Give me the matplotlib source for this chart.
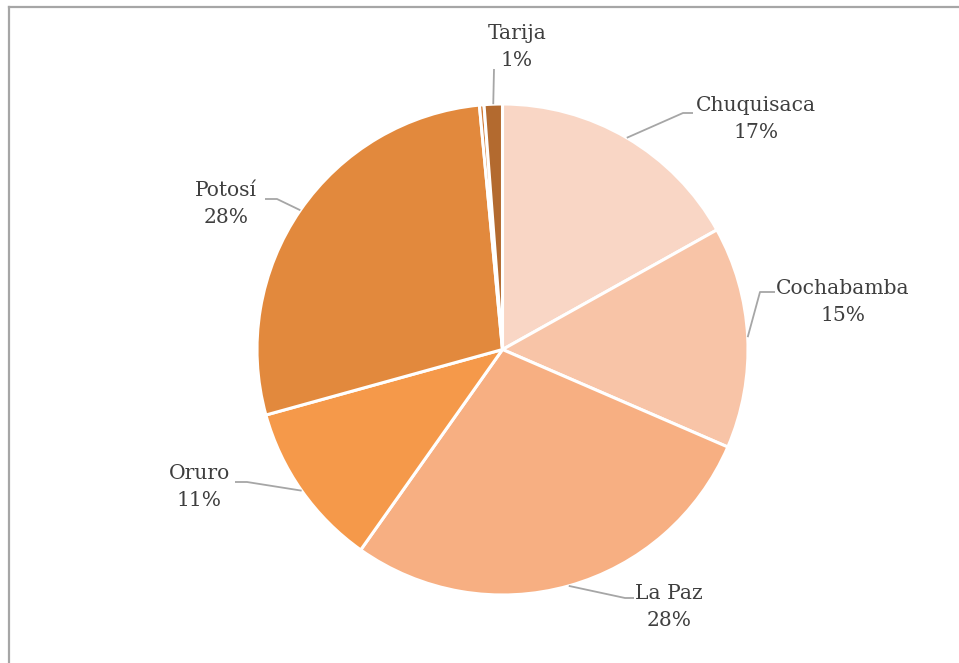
import numpy as np
import matplotlib.pyplot as plt
from matplotlib.lines import Line2D

W, H = 959, 663

# share per department, clockwise from the top
departments = ['Chuquisaca', 'Cochabamba', 'La Paz', 'Oruro', 'Potosí', '', 'Tarija']
shares = [16.9, 14.6, 28.3, 10.9, 27.8, 0.3, 1.2]
colors = ['#F9D6C5', '#F8C4A7', '#F7AF82', '#F5994A', '#E2893D', '#D37D38', '#B36A2F']

# label anchor (text centre) and elbow of the leader line, in pixels
label_xy = [(756, 119), (843, 302), (669, 607), (199, 487), (226, 204), None, (517, 47)]
elbow_xy = [(683, 113), (760, 292), (625, 598), (247, 482), (277, 199), None, (494, 69)]
end_xy = [(693, 113), (775, 292), (634, 598), (235, 482), (265, 199), None, (494, 69)]

cx, cy, r = 502.5, 349.5, 245.5


def px(x, y):
    return x, H - y


fig = plt.figure(figsize=(W / 100, H / 100), dpi=100)
ax = fig.add_axes([0, 0, 1, 1])

wedges, _ = ax.pie(shares, colors=colors, startangle=90, counterclock=False,
                   center=px(cx, cy), radius=r,
                   wedgeprops=dict(edgecolor='white', linewidth=2.2))
ax.set_xlim(0, W)
ax.set_ylim(0, H)
ax.set_aspect('equal')
ax.axis('off')

total = sum(shares)
start = 0.0
for name, v, lab, elb, end in zip(departments, shares, label_xy, elbow_xy, end_xy):
    mid = (start + v / 2) / total * 2 * np.pi
    start += v
    if lab is None:
        continue
    rim = (cx + r * np.sin(mid), cy - r * np.cos(mid))
    xs = [rim[0], elb[0], end[0]]
    ys = [H - rim[1], H - elb[1], H - end[1]]
    ax.plot(xs, ys, color='#A6A6A6', linewidth=1.3, solid_capstyle='butt')
    ax.text(*px(*lab), f"{name}\n{round(v / total * 100)}%", ha='center', va='center',
            fontsize=14.6, family='DejaVu Serif', color='#3F3F3F', linespacing=1.55)

# chart frame, only the top and left edges fall inside the image
fig.add_artist(Line2D([8.5 / W, 8.5 / W], [0, 1 - 6.5 / H], transform=fig.transFigure,
                      color='#A6A6A6', linewidth=1.6))
fig.add_artist(Line2D([8.5 / W, 1], [1 - 6.5 / H, 1 - 6.5 / H], transform=fig.transFigure,
                      color='#A6A6A6', linewidth=1.6))

fig.savefig('out.png', dpi=100)
